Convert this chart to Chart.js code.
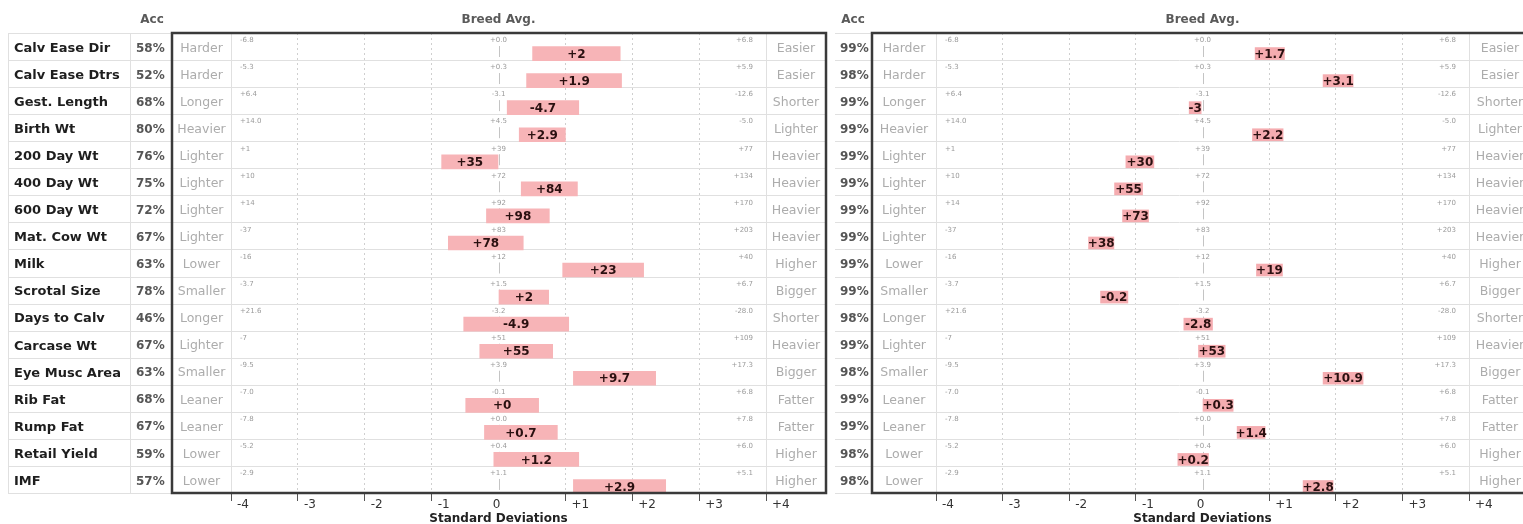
<!DOCTYPE html>
<html>
<head>
<meta charset="utf-8">
<script src="https://cdn.jsdelivr.net/npm/chart.js@4.4.0/dist/chart.umd.min.js"></script>
<style>
  body { margin: 0; background: #fff; width: 1523px; height: 524px; overflow: hidden; position: relative; }
  canvas { position: absolute; top: 0; }
  #left { left: 0; }
  #right { left: 834px; }
</style>
</head>
<body>
<canvas id="left" width="834" height="524"></canvas>
<canvas id="right" width="689" height="524"></canvas>
<script>
// traits (rows, top to bottom)
const traits = ["Calv Ease Dir", "Calv Ease Dtrs", "Gest. Length", "Birth Wt", "200 Day Wt",
  "400 Day Wt", "600 Day Wt", "Mat. Cow Wt", "Milk", "Scrotal Size", "Days to Calv",
  "Carcase Wt", "Eye Musc Area", "Rib Fat", "Rump Fat", "Retail Yield", "IMF"];
const lowWords = ["Harder", "Harder", "Longer", "Heavier", "Lighter", "Lighter", "Lighter", "Lighter",
  "Lower", "Smaller", "Longer", "Lighter", "Smaller", "Leaner", "Leaner", "Lower", "Lower"];
const highWords = ["Easier", "Easier", "Shorter", "Lighter", "Heavier", "Heavier", "Heavier", "Heavier",
  "Higher", "Bigger", "Shorter", "Heavier", "Bigger", "Fatter", "Fatter", "Higher", "Higher"];

// small reference values printed at -4 SD, breed average and +4 SD
const minusFourLabels = ["-6.8", "-5.3", "+6.4", "+14.0", "+1", "+10", "+14", "-37", "-16", "-3.7",
  "+21.6", "-7", "-9.5", "-7.0", "-7.8", "-5.2", "-2.9"];
const breedAvgLabels = ["+0.0", "+0.3", "-3.1", "+4.5", "+39", "+72", "+92", "+83", "+12", "+1.5",
  "-3.2", "+51", "+3.9", "-0.1", "+0.0", "+0.4", "+1.1"];
const plusFourLabels = ["+6.8", "+5.9", "-12.6", "-5.0", "+77", "+134", "+170", "+203", "+40", "+6.7",
  "-28.0", "+109", "+17.3", "+6.8", "+7.8", "+6.0", "+5.1"];

// left animal
const leftAcc = [58, 52, 68, 80, 76, 75, 72, 67, 63, 78, 46, 67, 63, 68, 67, 59, 57];
const leftEbv = ["+2", "+1.9", "-4.7", "+2.9", "+35", "+84", "+98", "+78", "+23", "+2", "-4.9",
  "+55", "+9.7", "+0", "+0.7", "+1.2", "+2.9"];
// bar extents in standard deviations [from, to]
const leftBars = [[0.51, 1.82], [0.42, 1.84], [0.13, 1.20], [0.31, 1.00], [-0.85, 0.00],
  [0.34, 1.18], [-0.18, 0.76], [-0.75, 0.37], [0.96, 2.17], [0.00, 0.75], [-0.52, 1.05],
  [-0.28, 0.81], [1.12, 2.35], [-0.49, 0.60], [-0.21, 0.88], [-0.07, 1.20], [1.12, 2.50]];

// right animal
const rightAcc = [99, 98, 99, 99, 99, 99, 99, 99, 99, 99, 98, 99, 98, 99, 99, 98, 98];
const rightEbv = ["+1.7", "+3.1", "-3", "+2.2", "+30", "+55", "+73", "+38", "+19", "-0.2", "-2.8",
  "+53", "+10.9", "+0.3", "+1.4", "+0.2", "+2.8"];
const rightBars = [[0.79, 1.23], [1.81, 2.26], [-0.20, -0.02], [0.75, 1.21], [-1.15, -0.73],
  [-1.32, -0.90], [-1.20, -0.81], [-1.71, -1.33], [0.81, 1.20], [-1.53, -1.12], [-0.28, 0.15],
  [-0.06, 0.34], [1.81, 2.41], [0.00, 0.46], [0.52, 0.94], [-0.37, 0.09], [1.51, 1.96]];

const sdTicks = [-4, -3, -2, -1, 0, 1, 2, 3, 4];

const FONT = "'DejaVu Sans', Verdana, sans-serif";
const BAR_SHIFT = 0.26; // bars sit in the lower part of each row

function line(ctx, x1, y1, x2, y2) {
  ctx.beginPath();
  ctx.moveTo(x1, y1);
  ctx.lineTo(x2, y2);
  ctx.stroke();
}

// draws the table round the chart: names, acc, words, small numbers, box
function tablePlugin(p) {
  return {
    id: "ebvTable",
    beforeDatasetsDraw(chart) {
      const ctx = chart.ctx;
      const x = chart.scales.x, y = chart.scales.y;
      const x0 = x.getPixelForValue(0);
      const rowH = y.getPixelForValue(0.5) - y.getPixelForValue(-0.5);
      ctx.save();
      ctx.strokeStyle = "#e0e0e0";
      ctx.lineWidth = 1;
      for (let i = 0; i <= traits.length; i++) {
        const yy = Math.round(y.getPixelForValue(i - 0.5)) + 0.5;
        line(ctx, p.rowStart, yy, p.boxRight, yy);
      }
      line(ctx, Math.round(x.left) + 0.5, y.top, Math.round(x.left) + 0.5, y.bottom);
      line(ctx, Math.round(x.right) + 0.5, y.top, Math.round(x.right) + 0.5, y.bottom);
      if (p.names) {
        line(ctx, p.rowStart + 0.5, y.top, p.rowStart + 0.5, y.bottom);
        line(ctx, p.nameDivider + 0.5, y.top, p.nameDivider + 0.5, y.bottom);
      }

      for (let i = 0; i < traits.length; i++) {
        const top = y.getPixelForValue(i - 0.5);
        const mid = top + rowH / 2 + 2;

        ctx.strokeStyle = "#c4c4c4";
        line(ctx, Math.round(x0) + 0.5, top + 13, Math.round(x0) + 0.5, top + 24);

        ctx.font = "7px " + FONT;
        ctx.fillStyle = "#9a9a9a";
        ctx.textBaseline = "top";
        ctx.textAlign = "left";
        ctx.fillText(minusFourLabels[i], x.left + 9, top + 4);
        ctx.textAlign = "center";
        ctx.fillText(breedAvgLabels[i], x0, top + 4);
        ctx.textAlign = "right";
        ctx.fillText(plusFourLabels[i], x.right - 13, top + 4);

        ctx.font = "12.5px " + FONT;
        ctx.fillStyle = "#acacac";
        ctx.textBaseline = "middle";
        ctx.textAlign = "center";
        ctx.fillText(lowWords[i], (p.boxLeft + x.left) / 2, mid);
        ctx.fillText(highWords[i], (x.right + p.boxRight) / 2, mid);

        ctx.font = "bold 12px " + FONT;
        ctx.fillStyle = "#555";
        ctx.textAlign = "left";
        ctx.fillText(p.acc[i] + "%", p.accX, mid);
        if (p.names) {
          ctx.font = "bold 13px " + FONT;
          ctx.fillStyle = "#1e1e1e";
          ctx.fillText(traits[i], p.nameX, mid);
        }
      }

      ctx.font = "bold 12px " + FONT;
      ctx.fillStyle = "#5a5a5a";
      ctx.textAlign = "center";
      ctx.textBaseline = "middle";
      ctx.fillText("Acc", p.accHeadX, 20);
      ctx.fillText("Breed Avg.", x0, 20);
      ctx.restore();
    },
    afterDatasetsDraw(chart) {
      const ctx = chart.ctx;
      const meta = chart.getDatasetMeta(0);
      ctx.save();
      ctx.font = "bold 12px " + FONT;
      ctx.fillStyle = "#2a1010";
      ctx.textAlign = "center";
      ctx.textBaseline = "middle";
      meta.data.forEach((bar, i) => {
        ctx.fillText(p.labels[i], (bar.x + bar.base) / 2, bar.y + 1);
      });
      ctx.restore();
    },
    afterDraw(chart) {
      const ctx = chart.ctx;
      const x = chart.scales.x, y = chart.scales.y;
      ctx.save();
      ctx.strokeStyle = "#3a3a3a";
      ctx.lineWidth = 2.5;
      ctx.strokeRect(p.boxLeft, y.top, p.boxRight - p.boxLeft, y.bottom - y.top);

      ctx.font = "12px " + FONT;
      ctx.fillStyle = "#333";
      ctx.textBaseline = "middle";
      sdTicks.forEach((v) => {
        const px = x.getPixelForValue(v);
        const txt = v > 0 ? "+" + v : String(v);
        ctx.textAlign = v === 0 ? "center" : "left";
        ctx.fillText(txt, v === 0 ? px - 2 : px + 6, y.bottom + 12);
      });
      ctx.restore();
    }
  };
}

function makeChart(id, bars, p) {
  return new Chart(document.getElementById(id), {
    type: "bar",
    data: {
      datasets: [{
        data: bars.map((b, i) => ({ x: b, y: i + BAR_SHIFT })),
        backgroundColor: p.barColor,
        borderWidth: 0,
        borderSkipped: false,
        barThickness: p.barThickness
      }]
    },
    options: {
      indexAxis: "y",
      responsive: false,
      animation: false,
      layout: { padding: { left: p.padLeft, right: p.padRight, top: 33, bottom: 0 } },
      plugins: { legend: { display: false }, tooltip: { enabled: false } },
      scales: {
        x: {
          type: "linear",
          min: -4,
          max: 4,
          offset: false,
          ticks: { stepSize: 1, display: false },
          grid: {
            offset: false,
            color: (c) => (c.tick && (c.tick.value === 0 || Math.abs(c.tick.value) === 4)) ? "rgba(0,0,0,0)" : "#cfcfcf",
            tickColor: (c) => (c.tick && c.tick.value === 0) ? "rgba(0,0,0,0)" : "#555",
            tickLength: 8,
            tickBorderDash: []
          },
          border: { display: false, dash: [2, 3] },
          title: {
            display: true,
            text: "Standard Deviations",
            color: "#222",
            font: { family: FONT, size: 12, weight: "bold", lineHeight: 0.8 },
            padding: 0
          },
          afterFit(scale) { scale.height = 31; }
        },
        y: {
          type: "linear",
          reverse: true,
          offset: false,
          grid: { offset: false },
          min: -0.5,
          max: traits.length - 0.5,
          display: false
        }
      }
    },
    plugins: [tablePlugin(p)]
  });
}

makeChart("left", leftBars, {
  names: true, acc: leftAcc, labels: leftEbv, barColor: "#f7b4b7",
  padLeft: 231, padRight: 68, barThickness: 14,
  rowStart: 8, nameDivider: 130, nameX: 14, accX: 136, accHeadX: 152,
  boxLeft: 172, boxRight: 826
});

makeChart("right", rightBars, {
  names: false, acc: rightAcc, labels: rightEbv, barColor: "#f5acb0",
  padLeft: 102, padRight: 54, barThickness: 12,
  rowStart: 1, accX: 6, accHeadX: 19,
  boxLeft: 38, boxRight: 697
});
</script>
</body>
</html>
